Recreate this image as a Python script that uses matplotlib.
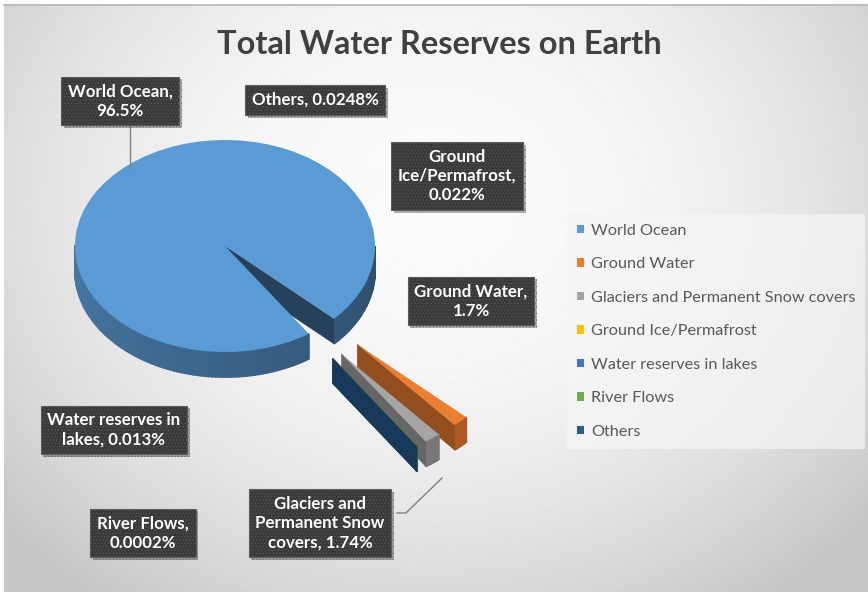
import numpy as np
import matplotlib
matplotlib.use('Agg')
import matplotlib.pyplot as plt
from matplotlib.patches import Polygon
from matplotlib import patheffects
from matplotlib.colors import to_rgb

# data
names = ['World Ocean', 'Ground Water', 'Glaciers and Permanent Snow covers',
         'Ground Ice/Permafrost', 'Water reserves in lakes', 'River Flows', 'Others']
shares = [96.5, 1.7, 1.74, 0.022, 0.013, 0.0002, 0.0248]
colors = ['#5B9BD5', '#ED7D31', '#A5A5A5', '#FFC000', '#4472C4', '#70AD47', '#255E91']
explode = [0, 1.28, 1.28, 1.28, 1.28, 1.28, 1.28]

label_text = ['World Ocean,\n96.5%', 'Ground Water,\n1.7%', 'Glaciers and\nPermanent Snow\ncovers, 1.74%',
              'Ground\nIce/Permafrost,\n0.022%', 'Water reserves in\nlakes, 0.013%',
              'River Flows,\n0.0002%', 'Others, 0.0248%']
# label centres in pixels (y down)
label_xy = [(120, 101), (471, 301), (320, 523), (457, 176), (114, 430), (143, 533), (315, 100)]

W, H = 868, 592
cx, cy, rx, ry, depth = 225, 246, 150, 106, 25

plt.rcParams['hatch.linewidth'] = 0.4
fig = plt.figure(figsize=(W / 100, H / 100), dpi=100)
fig.patch.set_facecolor('white')

# background gradient
ax_bg = fig.add_axes([0, 0, 1, 1])
yy, xx = np.mgrid[0:H, 0:W]
r2 = ((xx - 430) / 560.0) ** 2 + ((yy - 200) / 480.0) ** 2
grad = np.clip(0.985 - 0.2 * r2, 0.78, 1)
ax_bg.imshow(grad, cmap='gray', vmin=0, vmax=1, extent=(4, W, H, 5), aspect='auto')
ax_bg.plot([4, W], [4.5, 4.5], color='#b4b4b4', lw=1.2)
ax_bg.set_xlim(0, W)
ax_bg.set_ylim(H, 0)
ax_bg.axis('off')

# pie
ax = fig.add_axes([0, 0, 1, 1])
ax.patch.set_alpha(0)
wedges, _ = ax.pie(shares, colors=colors, startangle=304, counterclock=False,
                   explode=explode, wedgeprops=dict(linewidth=0))
ax.set_aspect('auto')
ax.set_xlim(-cx / rx, (W - cx) / rx)
ax.set_ylim(-(H - cy) / ry, cy / ry)
ax.axis('off')
T = depth / ry


def shade(col, f):
    return tuple(np.array(to_rgb(col)) * f)


z = 1
for i, w in enumerate(wedges):
    c = np.array(w.center)
    r = w.r
    t1, t2 = w.theta1, w.theta2
    col = colors[i]
    # curved outer side, front half only
    angs = np.linspace(t1, t2, max(2, int((t2 - t1) / 1.5) + 2))
    for a, b in zip(angs[:-1], angs[1:]):
        m = np.radians((a + b) / 2)
        if np.sin(m) >= 0:
            continue
        pa = c + r * np.array([np.cos(np.radians(a)), np.sin(np.radians(a))])
        pb = c + r * np.array([np.cos(np.radians(b)), np.sin(np.radians(b))])
        deg = np.degrees(m) % 360
        f = (0.78 - 0.28 * (deg - 180) / 180) if i == 0 else 0.72
        fc = shade(col, f)
        ax.add_patch(Polygon([pa, pb, pb - [0, T], pa - [0, T]], closed=True,
                             facecolor=fc, edgecolor=fc, lw=1.3, zorder=z))
    # radial cut face facing the viewer
    if np.cos(np.radians(t1)) > 0:
        p = c + r * np.array([np.cos(np.radians(t1)), np.sin(np.radians(t1))])
        fc = shade(col, 0.42 if i == 0 else 0.62)
        ax.add_patch(Polygon([c, p, p - [0, T], c - [0, T]], closed=True,
                             facecolor=fc, edgecolor=fc, lw=0.4, zorder=z + 0.5))
    w.set_zorder(z + 0.8)
    z += 1

# labels, title, leader lines
ax_top = fig.add_axes([0, 0, 1, 1])
ax_top.patch.set_alpha(0)
ax_top.set_xlim(0, W)
ax_top.set_ylim(H, 0)
ax_top.axis('off')

ax_top.plot([130, 130], [127, 168], color='#808080', lw=1)
ax_top.plot([397, 406, 442], [513, 513, 478], color='#808080', lw=1)

ax_top.text(439, 45, 'Total Water Reserves on Earth', ha='center', va='center',
            fontsize=23.5, fontweight='bold', color='#404040', family='Lato')

for txt, (lx, ly) in zip(label_text, label_xy):
    t = ax_top.text(lx, ly, txt, ha='center', va='center', fontsize=12.2,
                    fontweight='bold', color='white', family='Lato', linespacing=1.25,
                    bbox=dict(boxstyle='square,pad=0.4', facecolor='#3a3a3a',
                              edgecolor='#5c5c5c', linewidth=0.8, hatch='.....'))
    t.get_bbox_patch().set_path_effects([
        patheffects.SimplePatchShadow(offset=(2, -2), shadow_rgbFace='black', alpha=0.3),
        patheffects.Normal()])

leg = fig.legend(wedges, names, loc='upper left', bbox_to_anchor=(567 / W, 1 - 214 / H),
                 frameon=True, fancybox=False, labelcolor='#595959',
                 handlelength=0.45, handleheight=0.45, handletextpad=0.43,
                 labelspacing=1.2, borderpad=0.6, borderaxespad=0,
                 prop={'family': 'Lato', 'size': 11.7})
leg.get_frame().set_facecolor('#f5f5f5')
leg.get_frame().set_edgecolor('none')
leg.get_frame().set_alpha(0.7)

fig.savefig('out.png', dpi=100)
